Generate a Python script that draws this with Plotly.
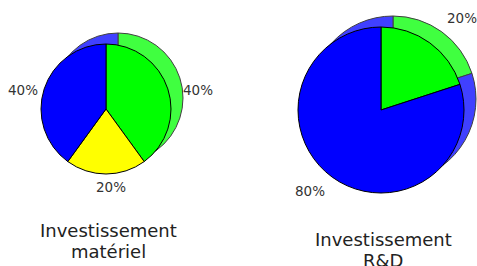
import math
import plotly.graph_objects as go

W, H = 477, 266

# Data
categories_left = ["A", "B", "C"]
values_left = [40, 20, 40]
colors_left = ["#00ff00", "#ffff00", "#0000ff"]
shadow_left = ["#40ff40", "#ffff40", "#4040ff"]

categories_right = ["A", "C"]
values_right = [20, 80]
colors_right = ["#00ff00", "#0000ff"]
shadow_right = ["#40ff40", "#4040ff"]

titles = [["Investissement", "matériel"], ["Investissement", "R&D"]]

# layout (pixel geometry)
pies = [
    dict(vals=values_left, labs=categories_left, cols=colors_left, sh=shadow_left,
         cx=106, cy=109, r=65, lab=(4.5, 4, 92, 74), tx=108, ty=(230, 251)),
    dict(vals=values_right, labs=categories_right, cols=colors_right, sh=shadow_right,
         cx=381, cy=110, r=83, lab=(5, -5.5, 129, 107), tx=383, ty=(239, 260)),
]
SHX, SHY = 12, -11

fig = go.Figure()
annotations = []


def dom(cx, cy, r):
    return dict(x=[(cx - r) / W, (cx + r) / W], y=[1 - (cy + r) / H, 1 - (cy - r) / H])


for p in pies:
    # shadow (back face)
    fig.add_trace(go.Pie(
        values=p["vals"], labels=p["labs"], sort=False, direction="clockwise", rotation=0,
        marker=dict(colors=p["sh"], line=dict(color="#404040", width=1)),
        textinfo="none", hoverinfo="skip", showlegend=False,
        domain=dom(p["cx"] + SHX, p["cy"] + SHY, p["r"]),
    ))
    # front face
    fig.add_trace(go.Pie(
        values=p["vals"], labels=p["labs"], sort=False, direction="clockwise", rotation=0,
        marker=dict(colors=p["cols"], line=dict(color="#000000", width=1)),
        textinfo="none", hoverinfo="skip", showlegend=False,
        domain=dom(p["cx"], p["cy"], p["r"]),
    ))
    total = sum(p["vals"])
    acc = 0
    ox, oy, rx, ry = p["lab"]
    for v in p["vals"]:
        mid = (acc + v / 2) / total * 2 * math.pi
        acc += v
        lx = p["cx"] + ox + rx * math.sin(mid)
        ly = p["cy"] + oy - ry * math.cos(mid)
        annotations.append(dict(
            x=lx / W, y=1 - ly / H, xref="paper", yref="paper",
            text=f"{round(v / total * 100)}%", showarrow=False,
            xanchor="center", yanchor="middle",
            font=dict(family="DejaVu Sans", size=13.5, color="#333333"),
        ))

for p, t in zip(pies, titles):
    for line, y in zip(t, p["ty"]):
        annotations.append(dict(
            x=p["tx"] / W, y=1 - y / H, xref="paper", yref="paper",
            text=line, showarrow=False, xanchor="center", yanchor="middle",
            font=dict(family="DejaVu Sans", size=18, color="#222222"),
        ))

fig.update_layout(
    width=W, height=H, margin=dict(l=0, r=0, t=0, b=0),
    paper_bgcolor="white", plot_bgcolor="white",
    annotations=annotations,
)
fig.write_html(
    "out.html",
    config={"displayModeBar": False},
    post_script="document.body.style.margin='0';document.body.style.overflow='hidden';",
)
